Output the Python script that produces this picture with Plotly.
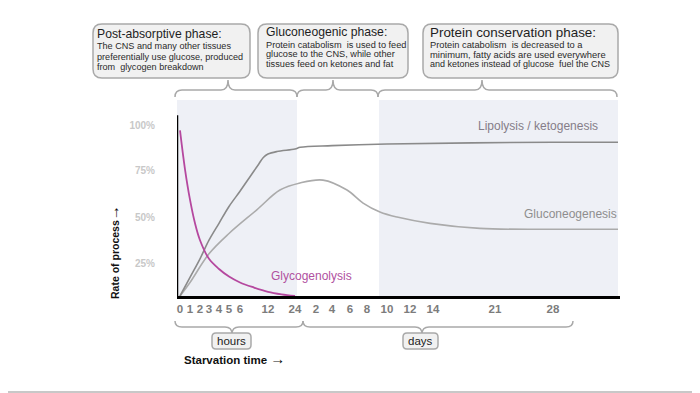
import numpy as np
import plotly.graph_objects as go

# ---------------- data ----------------
tick_labels = ["0", "1", "2", "3", "4", "5", "6", "12", "24",
               "2", "4", "6", "8", "10", "12", "14", "21", "28"]
tick_hours = [0, 1, 2, 3, 4, 5, 6, 12, 24,
              48, 96, 144, 192, 240, 288, 336, 504, 672]

glyco_hours = [0, 0.5, 1, 1.5, 2, 3, 4, 5, 6, 9, 12, 18, 24]
glyco_vals = [98, 75, 57, 43, 33, 22, 16, 11.5, 8, 5, 2.5, 1, 0]

lipo_hours = [0, 1, 2, 3, 4, 5, 6, 8, 10, 11, 12, 16, 24, 30, 96, 240, 672, 864]
lipo_vals = [0, 11, 22, 33, 43, 53, 62, 70, 78, 82, 84, 85.5, 87, 88, 89, 90, 91, 91]

gluco_hours = [0, 1, 3, 5, 9.6, 17.3, 29.7, 69, 136, 181, 223, 261, 330, 463, 672, 864]
gluco_vals = [0, 8, 25, 37, 51, 62.7, 66.9, 68.6, 62.7, 55, 49.7, 46.7, 43, 40, 39.5, 39.5]

y_tick_labels = ["25%", "50%", "75%", "100%"]

# ---------------- layout geometry (screen pixels) ----------------
W, H = 700, 393
OFF = 8                      # page body margin of the browser
L, R = 177, 620
T, B = 100, 296
YMAX = 116
axis_px = [180, 190, 200, 209, 219, 229, 240, 268, 295,
           316, 332, 350, 367, 387, 410, 433, 495, 553]
scale_hours = tick_hours + [864]
scale_px = axis_px + [618]
y_tick_vals = [19.5, 46.7, 74, 101.2]


def to_px(hours):
    return np.interp(hours, scale_hours, scale_px)


def px(x):
    return (x - L) / (R - L)


def py(y):
    return (B - y) / (B - T)


FONT = "Arial, Liberation Sans, sans-serif"

fig = go.Figure()

# shaded phase backgrounds
shapes = [
    dict(type="rect", xref="x", yref="paper", x0=177, x1=297, y0=0, y1=1,
         fillcolor="#eef0f6", line=dict(width=0), layer="below"),
    dict(type="rect", xref="x", yref="paper", x0=379, x1=618, y0=0, y1=1,
         fillcolor="#eef0f6", line=dict(width=0), layer="below"),
]

# curves
fig.add_trace(go.Scatter(x=to_px(gluco_hours), y=gluco_vals, mode="lines",
                         line=dict(color="#ababab", width=1.6, shape="spline", smoothing=1),
                         hoverinfo="skip", showlegend=False))
fig.add_trace(go.Scatter(x=to_px(lipo_hours), y=lipo_vals, mode="lines",
                         line=dict(color="#8a8a8a", width=1.6, shape="spline", smoothing=1),
                         hoverinfo="skip", showlegend=False))
fig.add_trace(go.Scatter(x=to_px(glyco_hours), y=glyco_vals, mode="lines",
                         line=dict(color="#b5489f", width=1.8, shape="spline", smoothing=1),
                         hoverinfo="skip", showlegend=False))

# y axis line (shorter than plot area)
shapes.append(dict(type="line", xref="x", yref="y", x0=177, x1=177, y0=0, y1=107,
                   line=dict(color="black", width=2.5)))


def pth(points):
    s = ""
    for cmd, pts in points:
        s += cmd + " ".join(f"{px(x):.5f},{py(y):.5f}" for x, y in pts) + " "
    return s.strip()


def rrect(x0, y0, x1, y1, r):
    return pth([
        ("M", [(x0 + r, y0)]), ("L", [(x1 - r, y0)]), ("Q", [(x1, y0), (x1, y0 + r)]),
        ("L", [(x1, y1 - r)]), ("Q", [(x1, y1), (x1 - r, y1)]),
        ("L", [(x0 + r, y1)]), ("Q", [(x0, y1), (x0, y1 - r)]),
        ("L", [(x0, y0 + r)]), ("Q", [(x0, y0), (x0 + r, y0)]), ("Z", []),
    ])


def brace(xa, xb, xt, yend, ybase, ytip, r=7):
    return pth([
        ("M", [(xa, yend)]), ("Q", [(xa, ybase), (xa + r, ybase)]),
        ("L", [(xt - r, ybase)]), ("Q", [(xt, ybase), (xt, ytip)]),
        ("Q", [(xt, ybase), (xt + r, ybase)]),
        ("L", [(xb - r, ybase)]), ("Q", [(xb, ybase), (xb, yend)]),
    ])


box_style = dict(type="path", xref="paper", yref="paper", fillcolor="#f1f1f1",
                 line=dict(color="#a9a9a9", width=1.5))
brace_style = dict(type="path", xref="paper", yref="paper",
                   line=dict(color="#a9a9a9", width=1.5))

# top boxes
for (x0, x1) in [(93, 250), (258, 408), (423, 618)]:
    shapes.append(dict(path=rrect(x0, 24, x1, 78, 9), **box_style))
# top braces
shapes.append(dict(path=brace(175, 297, 228, 97, 90, 80), **brace_style))
shapes.append(dict(path=brace(297, 378, 333, 97, 90, 80), **brace_style))
shapes.append(dict(path=brace(378, 617, 482, 97, 90, 80), **brace_style))
# bottom braces
shapes.append(dict(path=brace(175, 303, 232, 321, 327, 334), **brace_style))
shapes.append(dict(path=brace(303, 573, 422, 321, 327, 334), **brace_style))
# hours / days boxes
shapes.append(dict(path=rrect(212, 333, 251, 349, 4), **box_style))
shapes.append(dict(path=rrect(403, 333, 438, 349, 4), **box_style))
# bottom rule
shapes.append(dict(type="line", xref="paper", yref="paper", x0=px(-10), x1=px(720),
                   y0=py(392), y1=py(392), line=dict(color="#c8c8c8", width=2)))

annotations = []


def txt(x, y, s, size, color, bold=False, anchor="left", angle=0):
    annotations.append(dict(
        xref="paper", yref="paper", x=px(x), y=py(y), text=s, showarrow=False,
        xanchor=anchor, yanchor="middle", textangle=angle,
        font=dict(family=FONT, size=size, color=color, weight="bold" if bold else "normal")))


boxes = [
    (95, 33.5, [46, 56.5, 67], 12.2, [9.1, 9.1, 9.1], "Post-absorptive phase:",
     ["The CNS and many other tissues", "preferentially use glucose, produced",
      "from  glycogen breakdown"]),
    (264, 32.5, [45, 54.5, 64], 12.2, [9.2, 9.2, 9.2], "Gluconeogenic phase:",
     ["Protein catabolism  is used to feed", "glucose to the CNS, while other",
      "tissues feed on ketones and fat"]),
    (428, 32, [44.8, 54.6, 64.3], 13.4, [9.3, 9.4, 9.0], "Protein conservation phase:",
     ["Protein catabolism  is decreased to a", "minimum, fatty acids are used everywhere",
      "and ketones instead of glucose  fuel the CNS"]),
]
for x, ty, lys, tsz, bszs, title, lines in boxes:
    txt(x, ty, title, tsz, "#1e1e1e")
    for yy, ln, bsz in zip(lys, lines, bszs):
        txt(x, yy, ln, bsz, "#2a2a2a")

# curve labels
txt(476, 126, "Lipolysis / ketogenesis", 12, "#857d88")
txt(522, 214, "Gluconeogenesis", 12, "#8e8e8e")
txt(269, 276, "Glycogenolysis", 12, "#b0509f")

# axis titles and bottom labels
ARROW = "<span style='font-size:15px'>→</span>"
txt(113, 252, "Rate of process" + ARROW, 10.5, "#111", bold=True, anchor="center", angle=-90)
txt(231.5, 341, "hours", 11.5, "#222", anchor="center")
txt(420.5, 341, "days", 11.5, "#222", anchor="center")
txt(182, 358, "Starvation time " + ARROW, 11.5, "#111", bold=True)

fig.update_layout(
    width=W, height=H,
    margin=dict(l=L - OFF, r=W - (R - OFF), t=T - OFF, b=H - (B - OFF)),
    paper_bgcolor="white", plot_bgcolor="rgba(0,0,0,0)",
    shapes=shapes, annotations=annotations,
    xaxis=dict(range=[L, R], tickvals=axis_px, ticktext=tick_labels,
               showgrid=False, zeroline=False, showline=True, linecolor="black",
               linewidth=2.5, ticks="", ticklabelstandoff=0,
               tickfont=dict(family=FONT, size=11.5, color="#7c7c7c", weight="bold")),
    yaxis=dict(range=[0, YMAX], tickvals=y_tick_vals, ticktext=y_tick_labels,
               showgrid=False, zeroline=False, showline=False, ticks="",
               ticklabelstandoff=21,
               tickfont=dict(family=FONT, size=10, color="#c8c8c8", weight="bold")),
    font=dict(family=FONT),
)

fig.write_html("out.html")
